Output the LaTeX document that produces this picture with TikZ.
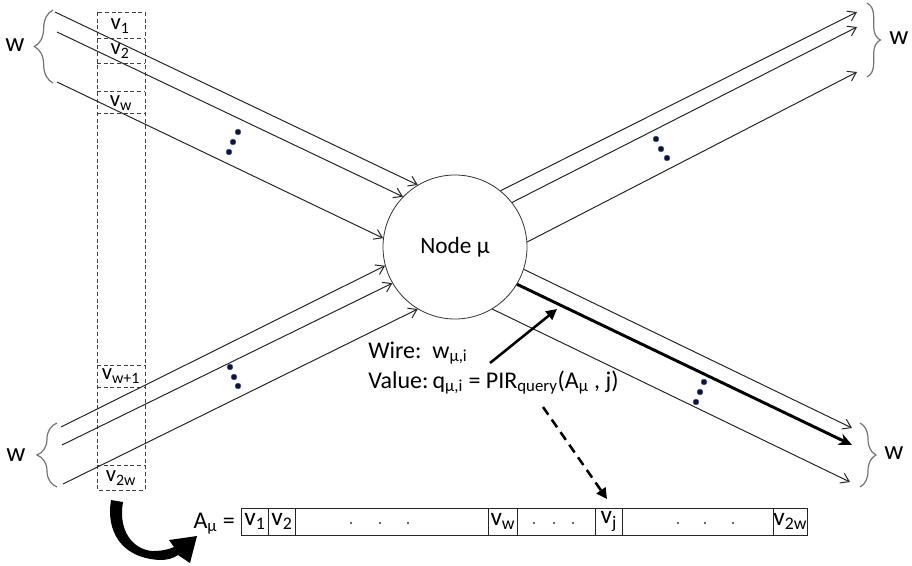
\documentclass[tikz,border=0pt]{standalone}
\usepackage{fontspec}
\setmainfont{Carlito}
\usetikzlibrary{arrows.meta,decorations.pathreplacing}
\newcommand\lo[1]{\textsubscript{#1}}

\begin{document}
\begin{tikzpicture}[x=0.75pt,y=-0.75pt,
  wire/.style={draw=black!85, line width=0.75pt, -{Straight Barb[length=6pt,width=8pt]}},
  hotwire/.style={draw=black, line width=2.2pt, -{Stealth[length=10pt,width=9pt]}},
  bracket/.style={draw=black!55, line width=0.9pt, decorate, decoration={brace, amplitude=#1}},
  bracket/.default=13pt,
  wlabel/.style={font=\fontsize{20}{22}\selectfont, inner sep=0pt},
  slot/.style={draw=black!75, line width=0.6pt, dash pattern=on 3pt off 2pt},
  slotlabel/.style={font=\fontsize{17}{18}\selectfont, inner sep=0pt},
  cell/.style={draw=black!85, line width=0.6pt, minimum height=20.25pt, inner sep=0pt, anchor=west, font=\fontsize{19}{20}\selectfont},
  dotmark/.style={fill={rgb,255:red,10;green,20;blue,60}, draw={rgb,255:red,70;green,100;blue,170}, line width=0.3pt},
  smalldot/.style={fill=black!80},
  note/.style={anchor=base west, inner sep=0pt, font=\fontsize{18}{20}\selectfont},
  pointer/.style={draw=black, line width=1.9pt, -{Triangle[length=8pt,width=8pt]}},
  lookup/.style={draw=black, line width=1.9pt, dash pattern=on 7pt off 4.5pt, -{Triangle[length=8pt,width=8pt]}}
]
\useasboundingbox (0,0) rectangle (912,565);

% dashed column of wire values
\draw[slot] (97,12) rectangle (145,490);
\foreach \yy in {38,63,91,113,365,387,465}
  \draw[slot] (97,\yy) -- (145,\yy);
\node[slotlabel] (s1) at (120,26) {v\lo{1}};
\node[slotlabel] (s2) at (120,51) {v\lo{2}};
\node[slotlabel] (sw) at (121,103) {v\lo{w}};
\node[slotlabel] (sw1) at (121,376) {v\lo{w+1}};
\node[slotlabel] (s2w) at (121,478) {v\lo{2w}};

% the gate
\node[circle, draw=black!80, line width=0.6pt, minimum size=108pt, inner sep=0pt,
      font=\fontsize{17.5}{20}\selectfont] (mu) at (455,247) {Node μ};

% incoming wires, upper bundle
\coordinate (a1) at (55,12);
\coordinate (a2) at (57,32);
\coordinate (a3) at (57,82);
\draw[wire] (a1) -- (mu.121.2);
\draw[wire] (a2) -- (mu.136.7);
\draw[wire] (a3) -- (mu.173.4);

% incoming wires, lower bundle
\coordinate (b1) at (61,427);
\coordinate (b2) at (62,445);
\coordinate (b3) at (63,484);
\draw[wire] (b1) -- (mu.195.9);
\draw[wire] (b2) -- (mu.210.4);
\draw[wire] (b3) -- (mu.239.6);

% outgoing wires, upper bundle
\coordinate (c1) at (857,12);
\coordinate (c2) at (857,27);
\coordinate (c3) at (857,72);
\draw[wire] (mu.51.2) -- (c1);
\draw[wire] (mu.38.9) -- (c2);
\draw[wire] (mu.4.8) -- (c3);

% outgoing wires, lower bundle
\coordinate (d1) at (852,428);
\coordinate (d2) at (852,445);
\coordinate (d3) at (850,482);
\draw[wire] (mu.342.6) -- (d1);
\draw[hotwire] (mu.329.6) -- (d2);
\draw[wire] (mu.301.5) -- (d3);

% braces and bundle sizes
\draw[bracket=14pt] (53,83) -- (53,10);
\node[wlabel] (w1) at (15,45) {w};
\draw[bracket=15pt] (57,487) -- (57,423);
\node[wlabel] (w2) at (16,455) {w};
\draw[bracket=10pt] (867,3) -- (867,77);
\node[wlabel] (w3) at (899,38) {w};
\draw[bracket=12pt] (860,423) -- (860,487);
\node[wlabel] (w4) at (894,453) {w};

% ellipses between wires
\foreach \px/\py in {238/132,233/142,229/152, 656/139,661/149,667/158,
                     230/367,234/377,238/386, 704/382,700/392,696/402}
  \fill[dotmark] (\px,\py) circle (2.2pt);

% wire annotation
\node[note] (wire) at (368,358) {Wire:\ \ w\lo{μ,i}};
\node[note] (val) at (368,388) {Value:\,q\lo{μ,i} = PIR\lo{query}(A\lo{μ} , j)};
\coordinate (p0) at (490,363);
\coordinate (p1) at (557,309);
\draw[pointer] (p0) -- (p1);

% the table A_mu
\node[anchor=base east, inner sep=0pt, font=\fontsize{18}{20}\selectfont] (A) at (235,528) {A\lo{μ} =};
\node[cell, minimum width=20.25pt] (t1) at (241,521.5) {v\lo{1}};
\node[cell, minimum width=20.25pt] (t2) at (268,521.5) {v\lo{2}};
\node[cell, minimum width=144.75pt] (t3) at (295,521.5) {};
\node[cell, minimum width=21.75pt] (t4) at (488,521.5) {v\lo{w}};
\node[cell, minimum width=58.5pt] (t5) at (517,521.5) {};
\node[cell, minimum width=20.25pt] (t6) at (595,521.5) {v\lo{j}};
\node[cell, minimum width=113.25pt] (t7) at (622,521.5) {};
\node[cell, minimum width=24.75pt] (t8) at (773,521.5) {v\lo{2w}};
\foreach \px in {351,380,408,534,554,573,678,705,733}
  \fill[smalldot] (\px,523) circle (0.9pt);

% the lookup into the table
\coordinate (q0) at (543,407);
\coordinate (q1) at (607,499);
\draw[lookup] (q0) -- (q1);

% column becomes the table
\fill[black] (111,500) .. controls (106,530) and (120,558) .. (160,560)
  .. controls (168,560) and (174,558) .. (178,555) -- (190,563) -- (197,536)
  -- (169,540) -- (174,547) .. controls (168,550) and (160,551) .. (152,551)
  .. controls (132,549) and (118,530) .. (123,502) -- cycle;
\end{tikzpicture}
\end{document}
